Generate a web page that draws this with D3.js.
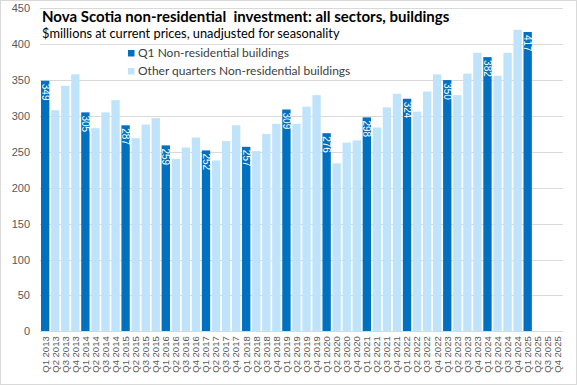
<!DOCTYPE html>
<html>
<head>
<meta charset="utf-8">
<script src="https://cdn.jsdelivr.net/npm/d3@7"></script>
<style>
  html, body { margin: 0; padding: 0; background: #fff; }
  svg { display: block; }
</style>
</head>
<body>
<svg id="chart" width="577" height="385"></svg>
<script>
// ---- Data ----
const years = [2013, 2014, 2015, 2016, 2017, 2018, 2019, 2020, 2021, 2022, 2023, 2024, 2025];
const quarters = ["Q1", "Q2", "Q3", "Q4"];
const categories = years.flatMap(y => quarters.map(q => q + " " + y));
const values = [
  349, 308, 342, 358,
  305, 283, 305, 322,
  287, 269, 288, 297,
  259, 240, 256, 270,
  252, 238, 265, 287,
  257, 251, 275, 289,
  309, 289, 313, 329,
  276, 234, 263, 266,
  298, 284, 312, 331,
  324, 306, 334, 358,
  350, 329, 359, 388,
  382, 356, 388, 420,
  417, null, null, null
];
const yTicks = [0, 50, 100, 150, 200, 250, 300, 350, 400, 450];
const seriesNames = ["Q1 Non-residential buildings", "Other quarters Non-residential buildings"];
const titleText = "Nova Scotia non-residential  investment: all sectors, buildings";
const subtitleText = "$millions at current prices, unadjusted for seasonality";

// ---- Styles ----
const darkBlue = "#0070C0";
const lightBlue = "#BFE3FB";
const gridColor = "#D9D9D9";
const axisText = "#595959";

const W = 577, H = 385;
const svg = d3.select("#chart");

// outer border
svg.append("rect").attr("x", 0.5).attr("y", 0.5).attr("width", W - 1).attr("height", H - 1)
  .attr("fill", "#fff").attr("stroke", "#D9D9D9");

const plot = { left: 40, right: 563, top: 8.3, bottom: 331.3 };

const x = d3.scaleBand().domain(categories).range([plot.left, plot.right])
  .paddingInner(0.17).paddingOuter(0.1);
const y = d3.scaleLinear().domain([0, 450]).range([plot.bottom, plot.top]);

// gridlines
svg.append("g").selectAll("line").data(yTicks).join("line")
  .attr("x1", plot.left).attr("x2", plot.right)
  .attr("y1", d => Math.round(y(d)) + 0.5).attr("y2", d => Math.round(y(d)) + 0.5)
  .attr("stroke", gridColor).attr("stroke-width", 1);

// y axis
const yAxis = d3.axisLeft(y).tickValues(yTicks).tickSize(0).tickPadding(10);
const gy = svg.append("g").attr("transform", `translate(${plot.left},0)`).call(yAxis);
gy.select(".domain").remove();
gy.selectAll("text").attr("fill", axisText).style("font-family", "'Liberation Sans', Arial, sans-serif")
  .style("font-size", "11px");

// bars
const data = categories.map((c, i) => ({ c, v: values[i], q1: c.startsWith("Q1") }));
svg.append("g").selectAll("rect").data(data.filter(d => d.v != null)).join("rect")
  .attr("x", d => x(d.c)).attr("width", x.bandwidth())
  .attr("y", d => y(d.v)).attr("height", d => y(0) - y(d.v))
  .attr("fill", d => d.q1 ? darkBlue : lightBlue);

// data labels on Q1 bars (inside end, rotated)
svg.append("g").selectAll("text").data(data.filter(d => d.v != null && d.q1)).join("text")
  .attr("transform", d => `translate(${x(d.c) + x.bandwidth() / 2},${y(d.v) + 3}) rotate(90)`)
  .attr("dy", "0.35em")
  .attr("text-anchor", "start")
  .attr("fill", "#fff")
  .style("font-family", "'Liberation Sans Narrow', 'Arial Narrow', 'Liberation Sans', sans-serif")
  .style("font-size", "10px")
  .text(d => d.v);

// baseline
svg.append("line").attr("x1", plot.left).attr("x2", plot.right)
  .attr("y1", Math.round(y(0)) + 0.5).attr("y2", Math.round(y(0)) + 0.5)
  .attr("stroke", gridColor);

// x axis
const xAxis = d3.axisBottom(x).tickSize(0).tickPadding(0);
const gx = svg.append("g").attr("transform", `translate(0,${plot.bottom})`).call(xAxis);
gx.select(".domain").remove();
gx.selectAll("text")
  .attr("transform", "rotate(-90)")
  .attr("x", -5).attr("y", 0).attr("dy", "0.35em")
  .attr("text-anchor", "end")
  .attr("fill", axisText)
  .style("font-family", "'Liberation Sans', Arial, sans-serif")
  .style("font-size", "9.5px");

// title and subtitle
svg.append("text").attr("x", 42).attr("y", 22)
  .style("font-family", "Lato, 'Open Sans', sans-serif").style("font-weight", "bold")
  .style("font-size", "15px").style("white-space", "pre").attr("xml:space", "preserve")
  .attr("fill", "#000").text(titleText);
svg.append("text").attr("x", 42).attr("y", 37.5)
  .style("font-family", "Lato, 'Open Sans', sans-serif")
  .style("font-size", "12.8px").attr("fill", "#000").text(subtitleText);

// legend
const legend = svg.append("g");
seriesNames.forEach((name, i) => {
  const ly = 53 + i * 18;
  legend.append("rect").attr("x", 128).attr("y", ly - 3).attr("width", 6.5).attr("height", 6.5)
    .attr("fill", i === 0 ? darkBlue : lightBlue);
  legend.append("text").attr("x", 138).attr("y", ly).attr("dy", "0.35em")
    .style("font-family", "Lato, 'Open Sans', sans-serif").style("font-size", "12px")
    .attr("fill", "#404040").text(name);
});
</script>
</body>
</html>
